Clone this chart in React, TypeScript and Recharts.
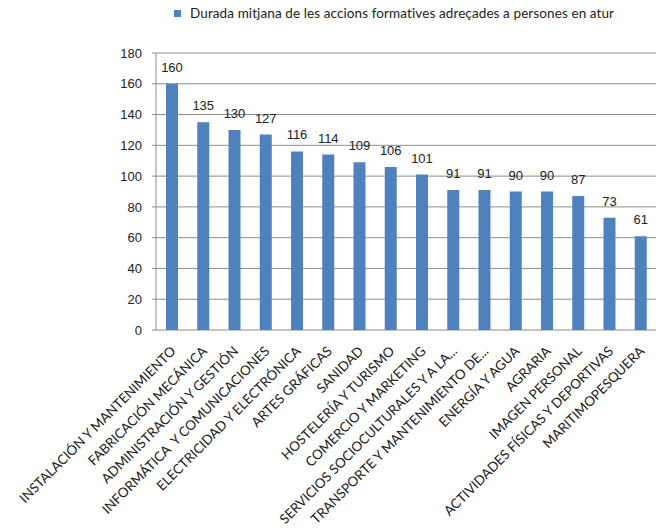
import { BarChart, Bar, XAxis, YAxis, CartesianGrid, LabelList } from 'recharts'

const categories = [
  'INSTALACIÓN Y MANTENIMIENTO',
  'FABRICACIÓN MECÁNICA',
  'ADMINISTRACIÓN Y GESTIÓN',
  'INFORMÁTICA  Y COMUNICACIONES',
  'ELECTRICIDAD Y ELECTRÓNICA',
  'ARTES GRÁFICAS',
  'SANIDAD',
  'HOSTELERÍA Y TURISMO',
  'COMERCIO Y MARKETING',
  'SERVICIOS SOCIOCULTURALES Y A LA...',
  'TRANSPORTE Y MANTENIMIENTO DE...',
  'ENERGÍA Y AGUA',
  'AGRARIA',
  'IMAGEN PERSONAL',
  'ACTIVIDADES FÍSICAS Y DEPORTIVAS',
  'MARITIMOPESQUERA',
]
const durada = [160, 135, 130, 127, 116, 114, 109, 106, 101, 91, 91, 90, 90, 87, 73, 61]
const yTicks = [0, 20, 40, 60, 80, 100, 120, 140, 160, 180]
const boundaryTicks = Array.from({ length: categories.length + 1 }, (_, i) => i)

const seriesName = 'Durada mitjana de les accions formatives adreçades a persones en atur'
const data = categories.map((c, i) => ({ name: c, value: durada[i] }))

const CategoryTick = (props: any) => {
  const { x, y, payload } = props
  return (
    <g transform={`translate(${x + 5},${y + 14})`}>
      <text
        transform="rotate(-45)"
        textAnchor="end"
        fontFamily="Lato, sans-serif"
        fontSize={13.4}
        fill="#222"
        style={{ whiteSpace: 'pre' }}
      >
        {payload.value}
      </text>
    </g>
  )
}

export default function App() {
  return (
    <div style={{ position: 'absolute', left: 0, top: 0, width: 665, height: 528, background: '#fff', overflow: 'hidden' }}>
      <div
        style={{
          position: 'absolute', left: 174, top: 5, display: 'flex', alignItems: 'center',
          fontFamily: 'Lato, sans-serif', fontSize: 13.5, color: '#222', whiteSpace: 'nowrap',
        }}
      >
        <span style={{ width: 7, height: 7, background: '#4f81bd', marginRight: 9, display: 'inline-block' }} />
        <span style={{ letterSpacing: 0.1 }}>{seriesName}</span>
      </div>
      <BarChart
        width={665}
        height={528}
        data={data}
        barSize={12}
        margin={{ top: 53, right: 9, left: 0, bottom: 0 }}
      >
        <CartesianGrid horizontal vertical={false} stroke="#8c8c8c" />
        <XAxis
          xAxisId="edges"
          type="number"
          domain={[0, categories.length]}
          ticks={boundaryTicks}
          interval={0}
          tick={false}
          tickSize={5}
          height={0}
          stroke="#8c8c8c"
          allowDataOverflow
        />
        <XAxis
          dataKey="name"
          interval={0}
          axisLine={false}
          tickLine={false}
          tick={<CategoryTick />}
          height={198}
        />
        <YAxis
          domain={[0, 180]}
          ticks={yTicks}
          interval={0}
          width={156}
          stroke="#8c8c8c"
          tickSize={4}
          tick={{ fontSize: 13, fill: '#222', fontFamily: "'Liberation Sans', Arial, sans-serif" }}
          tickMargin={10}
        />
        <Bar dataKey="value" name={seriesName} fill="#4f81bd" isAnimationActive={false}>
          <LabelList
            dataKey="value"
            position="top"
            offset={12}
            style={{ fontSize: 13, fill: '#222', fontFamily: "'Liberation Sans', Arial, sans-serif" }}
          />
        </Bar>
      </BarChart>
    </div>
  )
}
